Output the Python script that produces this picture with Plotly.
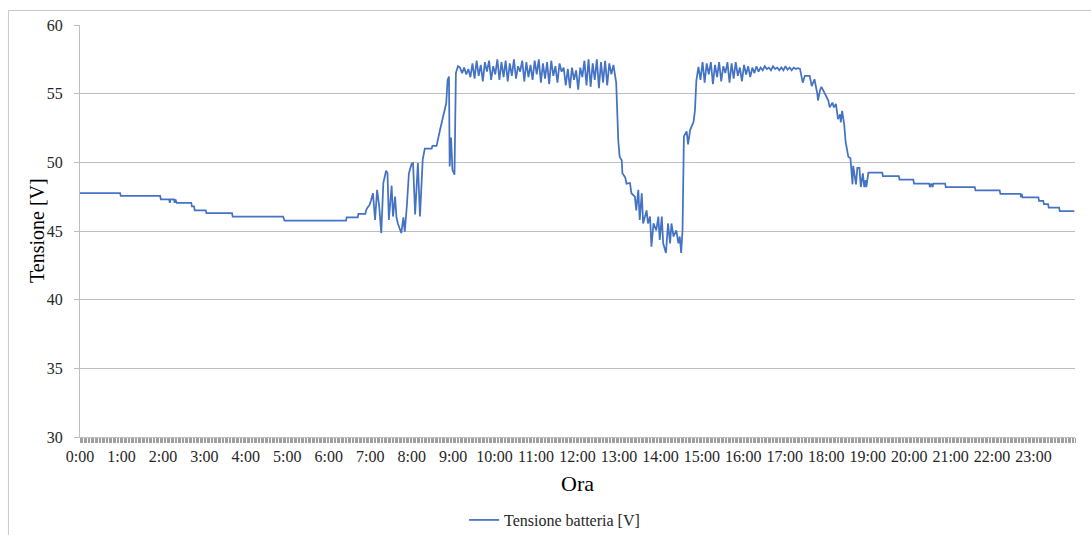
import plotly.graph_objects as go

# ---- data: time of day in minutes, battery voltage [V] ----
# night / early morning (slow discharge)
t_night = [0, 58, 59, 116, 117, 129, 130, 131, 136, 137, 138, 140, 161, 162, 165, 166, 182, 183,
           220, 221, 294, 295, 296, 385, 386, 402, 403, 413, 414]
v_night = [47.75, 47.75, 47.55, 47.55, 47.3, 47.3, 47.05, 47.3, 47.3, 47.05, 47.3, 47.05, 47.05, 46.8,
           46.8, 46.5, 46.5, 46.3, 46.3, 46.05, 46.05, 45.95, 45.75, 45.75, 46.0, 46.0, 46.25, 46.25, 46.5]

# morning rise (7:00 - 9:10)
t_rise = [416, 419, 421, 424, 427, 430, 433, 436, 439, 443, 445, 447, 451, 453, 456, 458, 460, 463,
          465, 468, 470, 473, 476, 480, 482, 485, 489, 492, 496, 499, 509, 510, 516, 521, 525, 528,
          530, 532, 534, 535, 537, 539, 542, 544, 547]
v_rise = [46.7, 46.9, 47.2, 47.75, 45.8, 48.0, 46.8, 44.85, 48.5, 49.4, 49.2, 45.8, 48.3, 46.05, 47.5,
          46.0, 45.55, 45.2, 44.85, 46.0, 44.95, 46.8, 49.2, 49.9, 49.95, 46.2, 49.95, 46.05, 50.2, 51.0,
          51.0, 51.2, 51.2, 52.35, 53.2, 54.05, 54.3, 56.0, 56.25, 49.7, 51.8, 49.45, 49.1, 56.5, 57.0]

# first charging plateau (9:10 - 12:56)
t_plat1 = [550, 553, 556, 559, 562, 565, 568, 571, 574, 577, 580, 583, 586, 589, 592, 595, 598, 601,
           604, 607, 610, 613, 616, 619, 622, 625, 628, 631, 634, 637, 640, 643, 646, 649, 652, 655,
           658, 661, 664, 667, 670, 673, 676, 679, 682, 685, 688, 691, 694, 697, 700, 703, 706, 709,
           712, 715, 718, 721, 724, 727, 730, 733, 736, 739, 742, 745, 748, 751, 754, 757, 760, 763,
           766, 769, 772, 776]
v_plat1 = [56.9, 56.5, 56.9, 56.4, 56.8, 56.2, 57.2, 56.1, 57.4, 56.3, 57.1, 55.9, 57.3, 56.6, 57.4,
           56.0, 57.0, 56.4, 57.5, 56.0, 57.3, 56.2, 57.4, 55.9, 57.2, 56.3, 57.5, 56.1, 57.0, 56.6,
           57.4, 55.9, 57.3, 56.2, 57.1, 56.0, 57.4, 56.4, 57.5, 55.8, 57.2, 56.1, 57.3, 55.7, 57.4,
           56.3, 57.0, 55.8, 57.2, 56.6, 56.9, 55.6, 56.8, 55.4, 56.9, 56.0, 56.7, 55.3, 56.9, 56.2,
           57.4, 55.6, 57.5, 55.5, 57.2, 56.0, 57.5, 55.4, 57.3, 55.8, 57.4, 55.6, 57.2, 56.4, 57.1, 55.8]

# midday drop (13:00 - 14:55)
t_drop = [779, 781, 784, 785, 789, 791, 796, 798, 803, 805, 808, 810, 813, 815, 820, 822, 825, 827,
          830, 834, 837, 839, 842, 844, 848, 851, 854, 856, 859, 863, 866, 868, 870, 872, 874, 878,
          880, 883, 888, 890, 892, 895]
v_drop = [51.6, 50.4, 50.15, 49.2, 48.9, 48.45, 48.5, 47.75, 47.5, 46.5, 48.0, 45.8, 47.75, 45.55,
          46.5, 45.55, 46.05, 43.85, 45.55, 45.05, 46.05, 44.35, 46.05, 44.1, 43.4, 45.55, 44.1,
          45.55, 44.6, 45.05, 44.1, 44.6, 43.4, 45.05, 51.9, 52.25, 51.3, 52.35, 52.95, 53.8, 55.95,
          56.95]

# second charging plateau (15:00 - 17:25)
t_plat2 = [898, 901, 904, 907, 910, 913, 916, 919, 922, 925, 928, 931, 934, 937, 940, 943, 946, 949,
           952, 955, 958, 961, 964, 967, 970, 973, 976, 979, 982, 985, 988, 991, 994, 997, 1000,
           1003, 1006, 1009, 1012, 1015, 1018, 1021, 1024, 1027, 1030, 1033, 1036, 1039, 1042]
v_plat2 = [56.0, 57.3, 55.8, 57.2, 56.4, 57.3, 55.7, 57.1, 56.2, 57.3, 55.9, 57.0, 56.5, 57.3, 55.8,
           57.2, 56.1, 57.3, 56.3, 56.9, 55.9, 57.1, 56.4, 57.0, 56.2, 56.9, 56.5, 57.0, 56.6, 56.9,
           56.7, 57.0, 56.8, 56.9, 56.7, 57.0, 56.8, 56.9, 56.7, 56.9, 56.7, 57.0, 56.75, 56.9, 56.7,
           56.9, 56.8, 56.85, 56.8]

# evening decline and night discharge
t_eve = [1046, 1049, 1056, 1059, 1063, 1067, 1068, 1071, 1073, 1078, 1083, 1085, 1089, 1091, 1094,
         1097, 1100, 1101, 1103, 1106, 1108, 1112, 1115, 1118, 1119, 1123, 1125, 1128, 1130, 1133,
         1135, 1137, 1138, 1141, 1161, 1162, 1185, 1186, 1206, 1207, 1229, 1230, 1232, 1234, 1235,
         1252, 1253, 1295, 1296, 1331, 1332, 1361, 1362, 1363, 1364, 1387, 1388, 1394, 1395, 1401,
         1402, 1417, 1418, 1439]
v_eve = [55.8, 56.3, 56.3, 55.55, 56.05, 55.0, 54.5, 55.25, 55.5, 55.0, 54.5, 54.0, 54.35, 54.0,
         54.25, 53.15, 53.5, 52.9, 53.75, 52.75, 51.5, 50.4, 50.3, 48.4, 49.75, 48.4, 49.6, 49.6,
         48.2, 49.2, 48.2, 48.7, 48.2, 49.25, 49.25, 49.0, 49.0, 48.75, 48.75, 48.45, 48.45, 48.2,
         48.45, 48.2, 48.45, 48.45, 48.2, 48.2, 47.95, 47.95, 47.7, 47.7, 47.45, 47.7, 47.45,
         47.45, 47.2, 47.2, 46.95, 46.95, 46.7, 46.7, 46.45, 46.45]

minutes = t_night + t_rise + t_plat1 + t_drop + t_plat2 + t_eve
volts = v_night + v_rise + v_plat1 + v_drop + v_plat2 + v_eve

hour_vals = list(range(0, 1440, 60))
hour_text = [f"{h}:00" for h in range(24)]
y_ticks = [30, 35, 40, 45, 50, 55, 60]

series_name = "Tensione batteria [V]"
x_title = "Ora"
y_title = "Tensione [V]"

FONT = "Liberation Serif, Times New Roman, serif"
GRID = "#bfbfbf"
TXT = "#262626"

fig = go.Figure()
fig.add_trace(go.Scatter(
    x=minutes, y=volts, mode="lines", name=series_name,
    line=dict(color="#4472C4", width=1.75),
))

fig.update_layout(
    width=1091, height=535,
    margin=dict(l=80, r=16, t=25, b=98, autoexpand=False),
    paper_bgcolor="white", plot_bgcolor="white",
    font=dict(family=FONT, size=16, color=TXT),
    showlegend=True,
    legend=dict(orientation="h", x=0.386, xanchor="left", y=-0.2015, yanchor="middle",
                font=dict(family=FONT, size=16, color=TXT), bgcolor="rgba(0,0,0,0)"),
    xaxis=dict(
        range=[0, 1440], tickmode="array", tickvals=hour_vals, ticktext=hour_text,
        showgrid=False, zeroline=False, showline=True, linecolor=GRID, linewidth=1,
        ticks="outside", ticklen=5, tickcolor="#a0a0a0",
        tickfont=dict(family=FONT, size=16, color=TXT),
        minor=dict(dtick=2, tick0=0, ticks="outside", ticklen=5, tickcolor="#a0a0a0",
                   tickwidth=0.6, showgrid=False),
    ),
    yaxis=dict(
        range=[30, 60], tickmode="array", tickvals=y_ticks,
        showgrid=True, gridcolor=GRID, gridwidth=1, zeroline=False,
        showline=True, linecolor=GRID, linewidth=1,
        ticks="outside", ticklen=5, tickcolor=GRID,
        ticklabelstandoff=8,
        tickfont=dict(family=FONT, size=16, color=TXT),
    ),
    annotations=[
        dict(text=y_title, xref="paper", yref="paper", x=-0.0432, y=0.5,
             xanchor="center", yanchor="middle", textangle=-90, showarrow=False,
             font=dict(family=FONT, size=20, color="black")),
        dict(text=x_title, xref="paper", yref="paper", x=0.4995, y=-0.1117,
             xanchor="center", yanchor="middle", showarrow=False,
             font=dict(family=FONT, size=22, color="black")),
    ],
    shapes=[
        dict(type="rect", xref="paper", yref="paper",
             x0=-0.0719, y0=-0.4, x1=1.05, y1=1.0352,
             line=dict(color="#c8c8c8", width=1), fillcolor="rgba(0,0,0,0)", layer="below"),
    ],
)

fig.write_html("out.html")
